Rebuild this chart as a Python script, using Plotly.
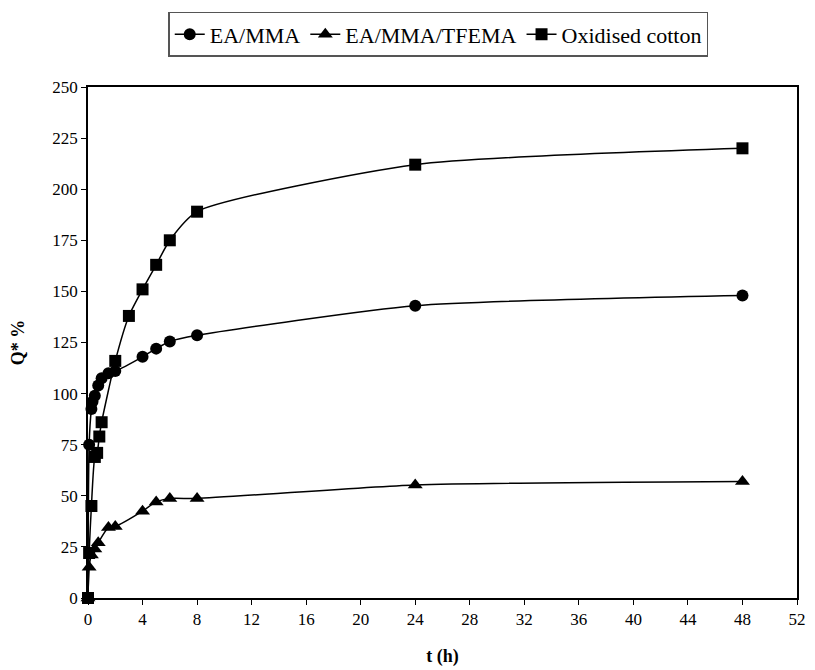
import plotly.graph_objects as go

# Data
t_ea_mma = [0, 0.083, 0.25, 0.33, 0.5, 0.75, 1, 1.5, 2, 4, 5, 6, 8, 24, 48]
q_ea_mma = [0, 75, 92.5, 96, 99, 104, 107.5, 110, 111, 118, 122, 125.5, 128.5, 143, 148]

t_tfema = [0, 0.083, 0.25, 0.5, 0.75, 1.5, 2, 4, 5, 6, 8, 24, 48]
q_tfema = [0, 15, 21, 24, 27, 34.5, 35, 42.5, 47, 48.7, 48.7, 55.3, 57]

t_cotton = [0, 0.083, 0.25, 0.5, 0.67, 0.83, 1, 2, 3, 4, 5, 6, 8, 24, 48]
q_cotton = [0, 22, 45, 69, 71, 79, 86, 116, 138, 151, 163, 175, 189, 212, 220]

series_names = ["EA/MMA", "EA/MMA/TFEMA", "Oxidised cotton"]
x_ticks = list(range(0, 53, 4))
y_ticks = list(range(0, 251, 25))

font_family = "Liberation Serif"

fig = go.Figure()
for name, t, q, sym in [
    (series_names[0], t_ea_mma, q_ea_mma, "circle"),
    (series_names[1], t_tfema, q_tfema, "triangle-up"),
    (series_names[2], t_cotton, q_cotton, "square"),
]:
    fig.add_trace(go.Scatter(
        x=t, y=q, name=name, mode="lines+markers",
        line=dict(color="black", width=1.5, shape="spline", smoothing=0.6),
        marker=dict(symbol=sym, size=12 if sym != "triangle-up" else 13, color="black"),
        cliponaxis=False,
    ))

# The page body has an 8px default margin, so the figure is 8px smaller
fig.update_layout(
    width=807, height=662,
    paper_bgcolor="white", plot_bgcolor="white",
    margin=dict(l=80, r=18, t=79, b=72, autoexpand=False),
    font=dict(family=font_family, size=17, color="black"),
    showlegend=True,
    legend=dict(
        orientation="h", x=0.494, xanchor="center", y=1.059, yanchor="bottom",
        bordercolor="#555555", borderwidth=1.5, bgcolor="white",
        font=dict(family=font_family, size=22, color="black"),
        itemwidth=30, tracegroupgap=0,
    ),
    xaxis=dict(
        range=[0, 52], tickvals=x_ticks, ticks="outside", ticklen=5,
        tickcolor="black", linecolor="black", linewidth=1.5, mirror=True,
        showgrid=False, zeroline=False, automargin=False,
        tickfont=dict(family=font_family, size=17, color="black"),
        title=dict(text="<b>t (h)</b>", standoff=21,
                   font=dict(family=font_family, size=18, color="black")),
    ),
    yaxis=dict(
        range=[0, 250], tickvals=y_ticks, ticks="outside", ticklen=5,
        tickcolor="black", linecolor="black", linewidth=1.5, mirror=True,
        showgrid=False, zeroline=False, automargin=False,
        tickfont=dict(family=font_family, size=17, color="black"),
        title=dict(text="<b>Q* %</b>", standoff=24,
                   font=dict(family=font_family, size=18, color="black")),
    ),
)

fig.write_html("out.html")
